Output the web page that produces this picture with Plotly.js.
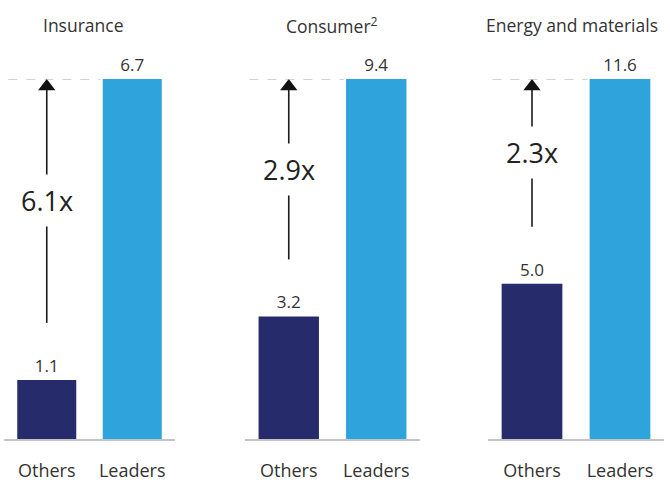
<!DOCTYPE html>
<html>
<head>
<meta charset="utf-8">
<script src="https://cdn.plot.ly/plotly-3.0.1.min.js"></script>
<style>html,body{margin:0;padding:0;background:#fff}#chart{width:664px;height:482px}</style>
</head>
<body>
<div id="chart"></div>
<script>
const categories = ['Others', 'Leaders'];
const sectors = ['Insurance', 'Consumer<sup>2</sup>', 'Energy and materials'];
const others = [1.1, 3.2, 5.0];
const leaders = [6.7, 9.4, 11.6];
const multiples = ['6.1x', '2.9x', '2.3x'];

const W = 664, H = 482, T = 79, B = 43;
const plotH = H - T - B;
const domains = [[4, 175], [245, 420], [488, 664]];
const titleX = [83, 332, 572];
const navy = '#252b6b', blue = '#2fa3db';
const font = '"Open Sans", "Noto Sans", sans-serif';

const data = [], shapes = [], annotations = [];
const layout = {
  width: W, height: H,
  margin: {l: 0, r: 0, t: T, b: B, pad: 0},
  paper_bgcolor: '#fff', plot_bgcolor: '#fff',
  showlegend: false,
  font: {family: font, color: '#333'},
  bargap: 0.31
};

sectors.forEach((s, i) => {
  const xa = i === 0 ? 'x' : 'x' + (i + 1);
  const ya = i === 0 ? 'y' : 'y' + (i + 1);
  const xk = i === 0 ? 'xaxis' : 'xaxis' + (i + 1);
  const yk = i === 0 ? 'yaxis' : 'yaxis' + (i + 1);
  const px = leaders[i] / plotH; // data units per pixel
  data.push({
    type: 'bar', x: categories, y: [others[i], leaders[i]],
    xaxis: xa, yaxis: ya,
    marker: {color: [navy, blue], line: {width: 0}},
    text: [others[i].toFixed(1), leaders[i].toFixed(1)],
    textposition: 'outside', cliponaxis: false,
    textfont: {size: 17, color: '#333', family: font},
    hoverinfo: 'skip'
  });
  // arrow shaft from above the Others bar up to the leaders level
  const bottom = others[i] + 57 * px;
  data.push({
    type: 'scatter', mode: 'lines', xaxis: xa, yaxis: ya,
    x: [categories[0], categories[0]], y: [bottom, leaders[i] - 8 * px],
    line: {color: '#1a1a1a', width: 1.6}, hoverinfo: 'skip', cliponaxis: false
  });
  // arrow head
  data.push({
    type: 'scatter', mode: 'markers', xaxis: xa, yaxis: ya,
    x: [categories[0]], y: [leaders[i] - 7.5 * px],
    marker: {symbol: 'triangle-up', size: 15, color: '#111', line: {width: 0}},
    hoverinfo: 'skip', cliponaxis: false
  });
  layout[xk] = {
    domain: [domains[i][0] / W, domains[i][1] / W],
    anchor: ya, type: 'category', range: [-0.5, 1.5],
    showline: true, linecolor: '#c4c4c4', linewidth: 1.5,
    showgrid: false, zeroline: false, fixedrange: true,
    ticks: 'outside', ticklen: 15, tickcolor: 'rgba(0,0,0,0)',
    tickfont: {size: 18, color: '#333', family: font}
  };
  layout[yk] = {
    anchor: xa, range: [0, leaders[i]], visible: false,
    showgrid: false, zeroline: false, fixedrange: true
  };
  // dashed reference line at the leaders level
  shapes.push({
    type: 'line', xref: xa, yref: ya,
    x0: -0.45, x1: 0.63, y0: leaders[i], y1: leaders[i],
    line: {color: '#a6a6a6', width: 1.2, dash: 'dash'}
  });
  annotations.push({
    xref: xa, yref: ya, x: 0, y: (bottom + leaders[i]) / 2,
    text: multiples[i], showarrow: false,
    bgcolor: '#fff', borderpad: 7,
    font: {size: 27, color: '#222', family: font}
  });
  annotations.push({
    xref: 'paper', yref: 'paper', x: titleX[i] / W,
    y: 1 + (T - 25) / plotH, yanchor: 'middle', xanchor: 'center',
    text: s, showarrow: false,
    font: {size: 17.5, color: '#333', family: font}
  });
});

layout.shapes = shapes;
layout.annotations = annotations;
Plotly.newPlot('chart', data, layout, {displayModeBar: false, staticPlot: true});
</script>
</body>
</html>
